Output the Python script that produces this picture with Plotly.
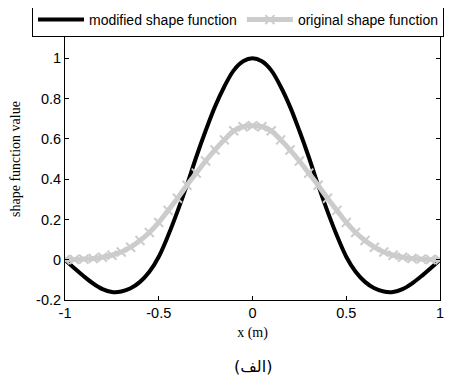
import plotly.graph_objects as go

x_vals = [-1.0, -0.95, -0.9, -0.85, -0.8, -0.75, -0.7, -0.65, -0.6, -0.55, -0.5,
          -0.45, -0.4, -0.35, -0.3, -0.25, -0.2, -0.15, -0.1, -0.05, 0.0,
          0.05, 0.1, 0.15, 0.2, 0.25, 0.3, 0.35, 0.4, 0.45, 0.5,
          0.55, 0.6, 0.65, 0.7, 0.75, 0.8, 0.85, 0.9, 0.95, 1.0]

modified = [0.0, -0.042, -0.082, -0.118, -0.146, -0.16, -0.158, -0.142, -0.11, -0.06, 0.015,
            0.12, 0.24, 0.37, 0.51, 0.64, 0.76, 0.86, 0.94, 0.985, 1.0,
            0.985, 0.94, 0.86, 0.76, 0.64, 0.51, 0.37, 0.24, 0.12, 0.015,
            -0.06, -0.11, -0.142, -0.158, -0.16, -0.146, -0.118, -0.082, -0.042, 0.0]

original = [0.0, 0.001, 0.003, 0.006, 0.012, 0.022, 0.038, 0.062, 0.095, 0.135, 0.185,
            0.245, 0.305, 0.37, 0.43, 0.49, 0.545, 0.595, 0.64, 0.66, 0.665,
            0.66, 0.64, 0.595, 0.545, 0.49, 0.43, 0.37, 0.305, 0.245, 0.185,
            0.135, 0.095, 0.062, 0.038, 0.022, 0.012, 0.006, 0.003, 0.001, 0.0]

x_ticks = [-1, -0.5, 0, 0.5, 1]
x_ticktext = ["-1", "-0.5", "0", "0.5", "1"]
y_ticks = [-0.2, 0, 0.2, 0.4, 0.6, 0.8, 1]
y_ticktext = ["-0.2", "0", "0.2", "0.4", "0.6", "0.8", "1"]

GRAY = "#cccccc"
SANS = "Liberation Sans, Arial, sans-serif"
SERIF = "Liberation Serif, Times New Roman, serif"

fig = go.Figure()
fig.add_trace(go.Scatter(
    x=x_vals, y=modified, mode="lines", name="modified shape function",
    line=dict(color="black", width=4, shape="spline"),
))
fig.add_trace(go.Scatter(
    x=x_vals, y=original, mode="lines+markers", name="original shape function",
    line=dict(color=GRAY, width=5, shape="spline"),
    marker=dict(symbol="x-thin", size=9, color=GRAY, line=dict(color=GRAY, width=2)),
))

# page is offset by the browser's 8px body margin
OFF = 8
W, H = 456, 383
L, T = 65 - OFF, 18 - OFF
pw, ph = 375, 282
R = W - L - pw
B = H - T - ph

axis_common = dict(
    showgrid=False, zeroline=False, showline=True, linecolor="black", linewidth=1,
    mirror="ticks", ticks="inside", ticklen=4, tickcolor="black", tickwidth=1,
    tickfont=dict(family=SANS, size=14.5, color="black"),
)

fig.update_layout(
    width=W, height=H,
    margin=dict(l=L, r=R, t=T, b=B, autoexpand=False),
    paper_bgcolor="white", plot_bgcolor="white",
    showlegend=True,
    legend=dict(
        orientation="h",
        x=(32 - OFF - L) / pw, xanchor="left",
        y=1 + (T - (3 - OFF)) / ph, yanchor="top",
        bgcolor="white", bordercolor="black", borderwidth=1,
        font=dict(family=SANS, size=14, color="black"),
        itemwidth=46, tracegroupgap=0,
    ),
    xaxis=dict(range=[-1, 1], tickvals=x_ticks, ticktext=x_ticktext,
               title=dict(text="x (m)", font=dict(family=SERIF, size=14, color="black"), standoff=6),
               **axis_common),
    yaxis=dict(range=[-0.2, 1.2], tickvals=y_ticks, ticktext=y_ticktext,
               title=dict(text="shape function value", font=dict(family=SERIF, size=14, color="black"), standoff=19),
               **axis_common),
    annotations=[dict(
        text="(الف)", xref="paper", yref="paper",
        x=(253 - OFF - L) / pw, y=-(366 - OFF - (T + ph)) / ph,
        xanchor="center", yanchor="middle", showarrow=False,
        font=dict(family="DejaVu Sans, sans-serif", size=16, color="black"),
    )],
)

fig.write_html("out.html")
